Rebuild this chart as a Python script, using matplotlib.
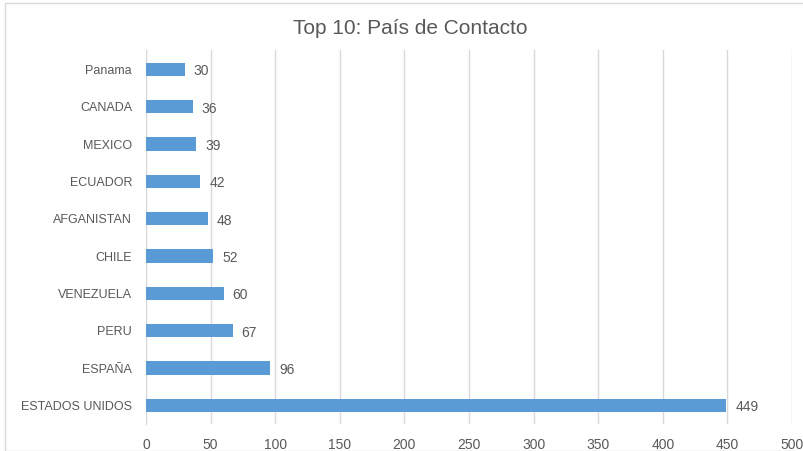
import matplotlib.pyplot as plt
from matplotlib.patches import Rectangle

paises = ["ESTADOS UNIDOS", "ESPAÑA", "PERU", "VENEZUELA", "CHILE",
          "AFGANISTAN", "ECUADOR", "MEXICO", "CANADA", "Panama"]
contactos = [449, 96, 67, 60, 52, 48, 42, 39, 36, 30]
xticks = [0, 50, 100, 150, 200, 250, 300, 350, 400, 450, 500]

plt.rcParams['font.family'] = ['Liberation Sans', 'DejaVu Sans']
texto = '#595959'

fig = plt.figure(figsize=(8.04, 4.51), dpi=100)
fig.patches.append(Rectangle((5 / 804, 0), 1.0, 1 - 3 / 451, transform=fig.transFigure,
                             fill=False, edgecolor='#d9d9d9', linewidth=1.0))
ax = fig.add_axes([146 / 804, 27 / 451, 646 / 804, 374 / 451])

y = range(len(paises))
ax.barh(y, contactos, height=0.36, color='#5b9bd5', zorder=3)
for i, v in enumerate(contactos):
    ax.text(v + 7, i - 0.05, str(v), va='center', ha='left', fontsize=10, color=texto)

ax.set_yticks(list(y))
ax.set_yticklabels(paises, fontsize=9, color=texto)
ax.set_xticks(xticks)
ax.set_xticklabels([str(t) for t in xticks], fontsize=10, color=texto)
ax.set_xlim(0, 500)
ax.set_ylim(-0.5, 9.52)
ax.tick_params(length=0, pad=10)
ax.tick_params(axis='y', pad=10)
ax.grid(axis='x', color='#d9d9d9', linewidth=1.0, zorder=0)
for s in ['top', 'right', 'bottom']:
    ax.spines[s].set_visible(False)
ax.spines['left'].set_color('#d9d9d9')

fig.text(410 / 804, 1 - 29 / 451, "Top 10: País de Contacto", ha='center', va='center',
         fontsize=15, color=texto)

fig.savefig('out.png', dpi=100)
